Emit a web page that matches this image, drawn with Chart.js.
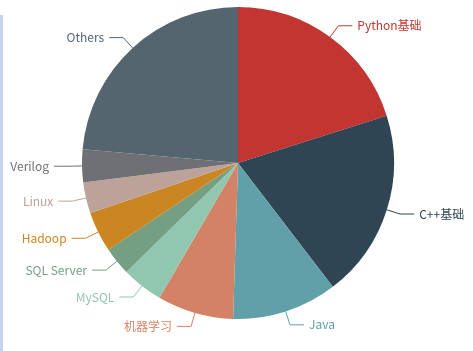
<!DOCTYPE html>
<html>
<head>
<meta charset="utf-8">
<script src="https://cdn.jsdelivr.net/npm/chart.js@4/dist/chart.umd.min.js"></script>
<style>
    html, body { margin: 0; padding: 0; background: #fff; }
    #wrap { position: relative; width: 473px; height: 351px; }
    #edge { position: absolute; left: 0; top: 15px; width: 3px; height: 336px; background: #c6d5ef; }
</style>
</head>
<body>
<div id="wrap">
    <div id="edge"></div>
    <canvas id="pie" width="473" height="351"></canvas>
</div>
<script>
// Course categories and their share
const categories = ['Python基础', 'C++基础', 'Java', '机器学习', 'MySQL', 'SQL Server', 'Hadoop', 'Linux', 'Verilog', 'Others'];
const shares = [20.1, 19.5, 10.9, 7.9, 4.3, 2.9, 4.2, 3.2, 3.4, 23.6];
const colors = ['#c23531', '#2f4554', '#61a0a8', '#d48265', '#91c7ae', '#749f83', '#ca8622', '#bda29a', '#6e7074', '#546570'];

// Outside labels with a two-part leader line
const outsideLabels = {
    id: 'outsideLabels',
    afterDatasetsDraw(chart) {
        const ctx = chart.ctx;
        const arcs = chart.getDatasetMeta(0).data;
        ctx.save();
        ctx.font = '12px "Noto Sans CJK SC", "Noto Sans", sans-serif';
        ctx.textBaseline = 'middle';
        ctx.lineWidth = 1;
        arcs.forEach((arc, i) => {
            const p = arc.getProps(['x', 'y', 'startAngle', 'endAngle', 'outerRadius'], true);
            const mid = (p.startAngle + p.endAngle) / 2;
            const dx = Math.cos(mid), dy = Math.sin(mid);
            const x1 = p.x + dx * p.outerRadius, y1 = p.y + dy * p.outerRadius;
            const x2 = p.x + dx * (p.outerRadius + 14), y2 = p.y + dy * (p.outerRadius + 14);
            const dir = dx < 0 ? -1 : 1;
            const x3 = x2 + dir * 14;
            ctx.strokeStyle = colors[i];
            ctx.beginPath();
            ctx.moveTo(x1, y1);
            ctx.lineTo(x2, y2);
            ctx.lineTo(x3, y2);
            ctx.stroke();
            ctx.fillStyle = colors[i];
            ctx.textAlign = dir < 0 ? 'right' : 'left';
            ctx.fillText(categories[i], x3 + dir * 5, y2);
        });
        ctx.restore();
    }
};

new Chart(document.getElementById('pie'), {
    type: 'pie',
    data: {
        labels: categories,
        datasets: [{
            data: shares,
            backgroundColor: colors,
            borderWidth: 0
        }]
    },
    options: {
        responsive: false,
        animation: false,
        layout: { padding: { left: 82, right: 79, top: 7, bottom: 32 } },
        plugins: {
            legend: { display: false },
            tooltip: { enabled: false }
        }
    },
    plugins: [outsideLabels]
});
</script>
</body>
</html>
